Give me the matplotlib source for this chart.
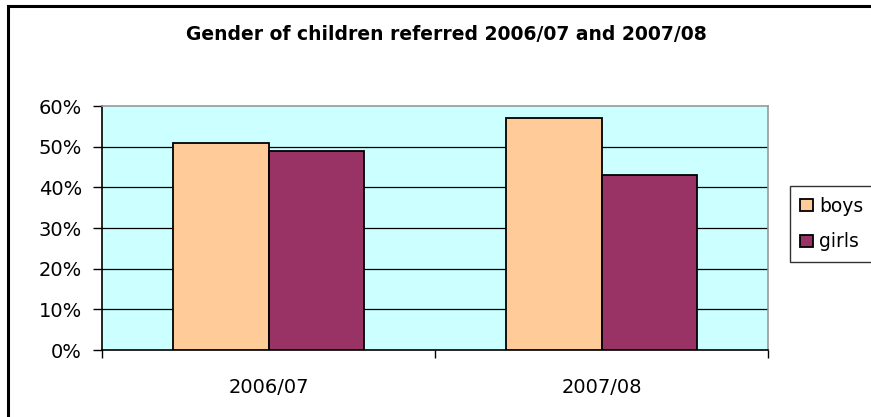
import numpy as np
import matplotlib.pyplot as plt
from matplotlib.lines import Line2D
from matplotlib.ticker import FixedLocator

plt.rcParams['font.family'] = ['DejaVu Sans']

years = ['2006/07', '2007/08']
boys = [51, 57]
girls = [49, 43]
yticks = [0, 10, 20, 30, 40, 50, 60]

fig = plt.figure(figsize=(8.71, 4.17), dpi=100)
ax = fig.add_axes([102/871, 67/417, 666/871, 244/417])
ax.set_facecolor('#CCFFFF')

x = np.arange(len(years)) + 0.5
w = 1/3.5
ax.bar(x - w/2, boys, w, color='#FFCC99', edgecolor='black', linewidth=1.3, label='boys', zorder=3)
ax.bar(x + w/2, girls, w, color='#993366', edgecolor='black', linewidth=1.3, label='girls', zorder=3)

ax.set_xlim(0, len(years))
ax.set_ylim(0, 60)
ax.set_yticks(yticks)
ax.set_yticklabels([f'{v}%' for v in yticks], fontsize=14)
for v in yticks[1:-1]:
    ax.axhline(v, color='black', linewidth=0.9, zorder=1)

ax.xaxis.set_major_locator(FixedLocator([0, 1, 2]))
ax.set_xticklabels([])
ax.xaxis.set_minor_locator(FixedLocator(list(x)))
ax.set_xticklabels(years, minor=True, fontsize=14)
ax.tick_params(axis='x', which='minor', length=0, pad=20)
ax.tick_params(axis='x', which='major', length=6, width=1, direction='out')
ax.tick_params(axis='y', length=6.5, width=1, direction='out', pad=8)

ax.spines['left'].set_color('black')
ax.spines['bottom'].set_color('black')
ax.spines['top'].set_color('#999999')
ax.spines['right'].set_color('#999999')
for s in ax.spines.values():
    s.set_linewidth(1.2)

fig.text(446/871, 1 - 34/417, 'Gender of children referred 2006/07 and 2007/08',
         ha='center', va='center', fontsize=13.5, fontweight='bold')

leg = ax.legend(loc='center left', bbox_to_anchor=(790/871, 1 - 224/417),
                bbox_transform=fig.transFigure, fontsize=13.5, frameon=True,
                fancybox=False, edgecolor='black', handlelength=0.65, handleheight=0.65,
                handletextpad=0.35, borderpad=0.55, labelspacing=0.9, borderaxespad=0)
leg.get_frame().set_linewidth(1)

# chart area border: only left and top edges are visible in the cropped original
bx, by = 8/871, 1 - 6/417
fig.lines.append(Line2D([bx, bx, 1.0], [0.0, by, by], transform=fig.transFigure,
                        color='black', linewidth=2.2, solid_joinstyle='miter'))

fig.savefig('out.png', dpi=100)
